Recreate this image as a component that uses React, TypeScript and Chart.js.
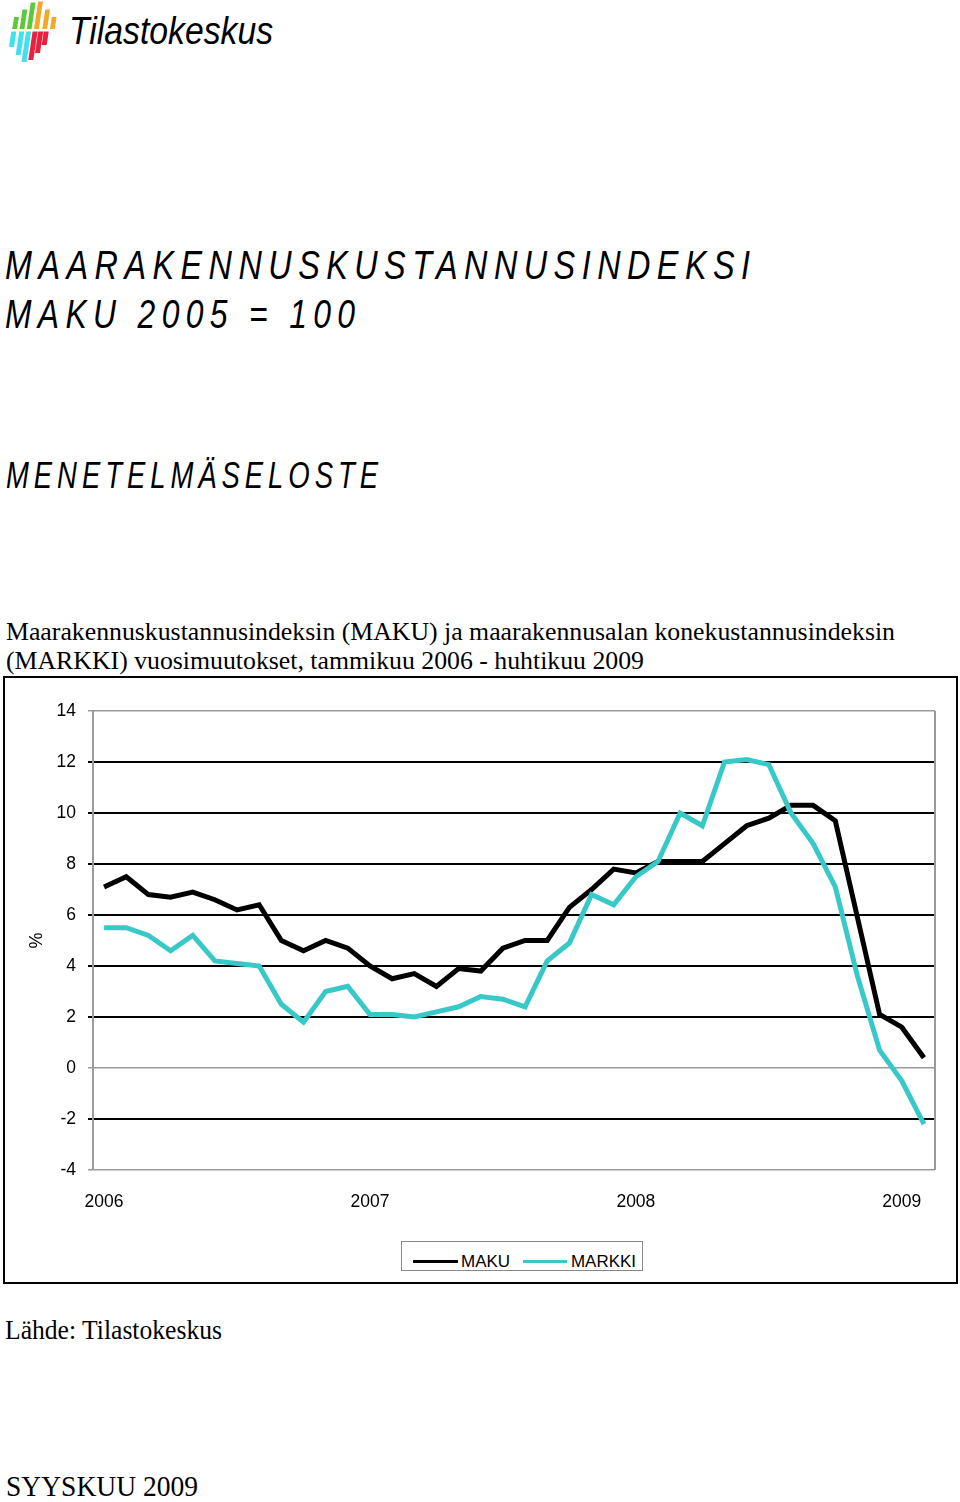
import React, { useEffect, useLayoutEffect, useRef } from "react";
import { Chart, registerables } from "chart.js";

Chart.register(...registerables);

const categories = [
  "2006-01", "2006-02", "2006-03", "2006-04", "2006-05", "2006-06", "2006-07", "2006-08", "2006-09", "2006-10", "2006-11", "2006-12",
  "2007-01", "2007-02", "2007-03", "2007-04", "2007-05", "2007-06", "2007-07", "2007-08", "2007-09", "2007-10", "2007-11", "2007-12",
  "2008-01", "2008-02", "2008-03", "2008-04", "2008-05", "2008-06", "2008-07", "2008-08", "2008-09", "2008-10", "2008-11", "2008-12",
  "2009-01", "2009-02",
];

const xTickLabels = ["2006", "2007", "2008", "2009"];

const makuValues = [
  7.1, 7.5, 6.8, 6.7, 6.9, 6.6, 6.2, 6.4, 5.0, 4.6,
  5.0, 4.7, 4.0, 3.5, 3.7, 3.2, 3.9, 3.8, 4.7, 5.0,
  5.0, 6.3, 7.0, 7.8, 7.65, 8.1, 8.1, 8.1, 8.8, 9.5,
  9.8, 10.3, 10.3, 9.7, 5.9, 2.1, 1.6, 0.4,
];

const markkiValues = [
  5.5, 5.5, 5.2, 4.6, 5.2, 4.2, 4.1, 4.0, 2.5, 1.8,
  3.0, 3.2, 2.1, 2.1, 2.0, 2.2, 2.4, 2.8, 2.7, 2.4,
  4.2, 4.9, 6.8, 6.4, 7.5, 8.1, 10.0, 9.5, 12.0, 12.1,
  11.9, 10.0, 8.8, 7.1, 3.6, 0.7, -0.5, -2.2,
];

const yMin = -4;
const yMax = 14;
const yStep = 2;

const SANS = "'Liberation Sans', Arial, Helvetica, sans-serif";
const SERIF = "'Liberation Serif', 'Times New Roman', serif";
const CYAN = "#38C8C8";

type FitProps = {
  text: string;
  left: number;
  top: number;
  width: number;
  size: number;
  family: string;
  italic?: boolean;
  ls?: number; // em
};

function FitText({ text, left, top, width, size, family, italic, ls = 0 }: FitProps) {
  const ref = useRef<HTMLSpanElement>(null);
  useLayoutEffect(() => {
    const el = ref.current;
    if (!el) return;
    el.style.transform = "none";
    const w = el.getBoundingClientRect().width - ls * size;
    if (w > 0) el.style.transform = `scaleX(${width / w})`;
  }, [text, width, size, ls]);
  return (
    <span
      ref={ref}
      style={{
        position: "absolute",
        left,
        top,
        fontFamily: family,
        fontSize: size,
        fontStyle: italic ? "italic" : "normal",
        lineHeight: 1,
        letterSpacing: `${ls}em`,
        whiteSpace: "nowrap",
        display: "inline-block",
        transformOrigin: "0 0",
        color: "#000",
      }}
    >
      {text}
    </span>
  );
}

function Logo() {
  const s = 0.15;
  const bar = (x0: number, yBottom: number, yTop: number, w: number, color: string, key: string) => {
    const d = (yBottom - yTop) * s;
    const pts = `${x0},${yBottom} ${x0 + w},${yBottom} ${x0 + w + d},${yTop} ${x0 + d},${yTop}`;
    return <polygon key={key} points={pts} fill={color} />;
  };
  return (
    <svg width={60} height={64} style={{ position: "absolute", left: 0, top: 0 }}>
      {bar(12.3, 29, 17, 4.8, "#5DC83A", "g1")}
      {bar(19.6, 29, 9.5, 4.8, "#5DC83A", "g2")}
      {bar(26.8, 29, 2.5, 4.8, "#5DC83A", "g3")}
      {bar(34.0, 29, 1.5, 4.8, "#F2A82C", "o1")}
      {bar(42.3, 29, 9.5, 4.8, "#F2A82C", "o2")}
      {bar(50.0, 29, 17, 4.8, "#F2A82C", "o3")}
      {bar(9.0, 47, 31.5, 5, "#3FE0F2", "c1")}
      {bar(15.7, 55, 31.5, 5, "#3FE0F2", "c2")}
      {bar(21.5, 62, 31.5, 5, "#3FE0F2", "c3")}
      {bar(28.3, 60, 31.5, 5, "#E8213F", "r1")}
      {bar(35.0, 53, 31.5, 5, "#E8213F", "r2")}
      {bar(41.7, 45, 31.5, 5, "#E8213F", "r3")}
    </svg>
  );
}

function LineChart() {
  const canvasRef = useRef<HTMLCanvasElement>(null);
  useEffect(() => {
    const canvas = canvasRef.current;
    if (!canvas) return;
    const frame = {
      id: "frameRight",
      beforeDatasetsDraw(chart: any) {
        const { ctx, chartArea } = chart;
        ctx.save();
        ctx.strokeStyle = "#999";
        ctx.lineWidth = 2;
        ctx.beginPath();
        ctx.moveTo(chartArea.right, chartArea.top);
        ctx.lineTo(chartArea.right, chartArea.bottom);
        ctx.stroke();
        ctx.restore();
      },
    };
    const chart = new Chart(canvas, {
      type: "line",
      data: {
        labels: categories,
        datasets: [
          {
            label: "MAKU",
            data: makuValues,
            borderColor: "#000",
            backgroundColor: "#000",
            borderWidth: 5,
            pointRadius: 0,
            tension: 0,
            fill: false,
            order: 1,
          },
          {
            label: "MARKKI",
            data: markkiValues,
            borderColor: CYAN,
            backgroundColor: CYAN,
            borderWidth: 5,
            pointRadius: 0,
            tension: 0,
            fill: false,
            order: 0,
          },
        ],
      },
      options: {
        animation: false,
        responsive: false,
        maintainAspectRatio: false,
        layout: { padding: { top: 33, right: 21, left: 0, bottom: 0 } },
        plugins: {
          legend: { display: false },
          tooltip: { enabled: false },
          title: { display: false },
        },
        scales: {
          x: {
            type: "category",
            offset: true,
            grid: { display: false, drawTicks: false },
            border: { display: false },
            ticks: {
              autoSkip: false,
              maxRotation: 0,
              minRotation: 0,
              padding: 22,
              color: "#000",
              font: { family: SANS, size: 17.5 },
              callback: (_v: any, index: number) => {
                const c = categories[index];
                const y = xTickLabels.find((t) => c === `${t}-01`);
                return y ?? "";
              },
            },
            afterFit: (scale: any) => {
              scale.height = 63;
            },
          },
          y: {
            min: yMin,
            max: yMax,
            ticks: {
              stepSize: yStep,
              padding: 12,
              color: "#000",
              font: { family: SANS, size: 17.5 },
            },
            grid: {
              color: (ctx: any) => {
                const v = ctx.tick?.value;
                return v === 0 || v === yMin || v === yMax ? "#9a9a9a" : "#000";
              },
              lineWidth: (ctx: any) => {
                const v = ctx.tick?.value;
                return v === 0 || v === yMin || v === yMax ? 1.5 : 2;
              },
              tickLength: 5,
            },
            border: { color: "#9a9a9a", width: 2 },
            title: {
              display: true,
              text: "%",
              color: "#000",
              font: { family: SANS, size: 18 },
              padding: { top: 21, bottom: 0 },
            },
            afterFit: (scale: any) => {
              scale.width = 88;
            },
          },
        },
      },
      plugins: [frame],
    });
    return () => chart.destroy();
  }, []);
  return (
    <canvas
      ref={canvasRef}
      width={951}
      height={555}
      style={{ position: "absolute", left: 5, top: 678, width: 951, height: 555 }}
    />
  );
}

export default function App() {
  return (
    <div
      style={{
        position: "absolute",
        left: 0,
        top: 0,
        width: 960,
        height: 1502,
        overflow: "hidden",
        background: "#fff",
      }}
    >
      <Logo />
      <FitText text="Tilastokeskus" left={69} top={12} width={204} size={38} family={SANS} italic />

      <FitText text="MAARAKENNUSKUSTANNUSINDEKSI" left={5} top={245} width={745} size={40} family={SANS} italic ls={0.2} />
      <FitText text="MAKU 2005 = 100" left={5} top={294} width={350} size={40} family={SANS} italic ls={0.2} />
      <FitText text="MENETELMÄSELOSTE" left={6} top={458} width={372} size={36} family={SANS} italic ls={0.18} />

      <FitText
        text="Maarakennuskustannusindeksin (MAKU) ja maarakennusalan konekustannusindeksin"
        left={6}
        top={619}
        width={889}
        size={25}
        family={SERIF}
      />
      <FitText
        text="(MARKKI) vuosimuutokset, tammikuu 2006 - huhtikuu 2009"
        left={6}
        top={648}
        width={638}
        size={25}
        family={SERIF}
      />

      <div
        style={{
          position: "absolute",
          left: 3,
          top: 676,
          width: 955,
          height: 608,
          boxSizing: "border-box",
          border: "2px solid #000",
        }}
      />
      <LineChart />

      <div
        style={{
          position: "absolute",
          left: 401,
          top: 1241,
          width: 242,
          height: 30,
          boxSizing: "border-box",
          border: "1px solid #8a8a8a",
        }}
      />
      <div style={{ position: "absolute", left: 413, top: 1260, width: 45, height: 3, background: "#000" }} />
      <FitText text="MAKU" left={461} top={1253} width={49} size={16.5} family={SANS} />
      <div style={{ position: "absolute", left: 523, top: 1260, width: 44, height: 3, background: CYAN }} />
      <FitText text="MARKKI" left={571} top={1253} width={65} size={16.5} family={SANS} />

      <FitText text="Lähde: Tilastokeskus" left={5} top={1317} width={217} size={26.5} family={SERIF} />
      <FitText text="SYYSKUU 2009" left={6} top={1472} width={192} size={29} family={SERIF} />
    </div>
  );
}
